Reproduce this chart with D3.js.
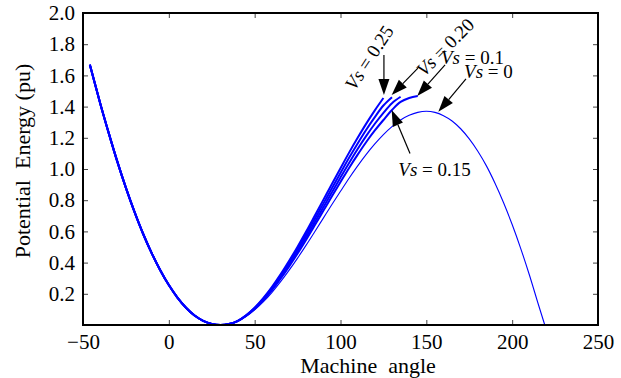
<!DOCTYPE html>
<html><head><meta charset="utf-8">
<script src="https://cdn.jsdelivr.net/npm/d3@7/dist/d3.min.js"></script>
<style>body{margin:0;background:#fff}svg{display:block}svg text,svg tspan{font-family:"Liberation Serif","Times New Roman",serif !important}</style>
</head><body><svg id="c" width="621" height="378" font-family="Liberation Serif"></svg>
<script>
// Vs = 0 (thin) curve
const angles0 = [-46,-40,-35,-30,-25,-20,-15,-10,-5,0,5,10,15,20,25,30,35,40,45,50,55,60,65,70,75,80,85,90,95,100,105,110,115,120,125,130,135,140,145,150,155,160,165,170,175,180,185,190,195,200,205,210,215,219];
const values0 = [1.669,1.422,1.230,1.047,0.879,0.725,0.585,0.461,0.351,0.256,0.176,0.111,0.061,0.027,0.007,0,0.006,0.025,0.056,0.097,0.148,0.208,0.276,0.350,0.429,0.512,0.598,0.685,0.772,0.857,0.941,1.020,1.094,1.161,1.221,1.272,1.314,1.344,1.363,1.370,1.363,1.342,1.308,1.258,1.193,1.114,1.020,0.909,0.784,0.644,0.490,0.322,0.141,0];
// compensated curves (share the Vs=0 branch up to 40 deg)
const thickAngles = [45,50,55,60,65,70,75,80,85,90,95,100,105,110,115,120,125,130,135,140,145];
const vs25 = [0.062,0.111,0.172,0.243,0.323,0.410,0.502,0.599,0.700,0.802,0.904,1.005,1.105,1.200,1.291,1.376,1.455];
const vs20 = [0.061,0.109,0.167,0.236,0.314,0.398,0.488,0.582,0.679,0.778,0.877,0.975,1.072,1.164,1.252,1.333,1.407,1.460];
const vs15 = [0.060,0.106,0.163,0.229,0.304,0.386,0.473,0.564,0.659,0.755,0.851,0.946,1.039,1.128,1.212,1.290,1.360,1.422,1.463];
const vs10 = [0.058,0.103,0.158,0.222,0.295,0.374,0.458,0.547,0.639,0.732,0.825,0.916,1.007,1.092,1.173,1.247,1.314,1.378,1.430,1.455,1.468];
const xTicks = [-50,0,50,100,150,200,250];
const yTicks = [0.2,0.4,0.6,0.8,1.0,1.2,1.4,1.6,1.8,2.0];
const labels = ["0.25","0.20","0.15","0.1","0"];

const FF = "Liberation Serif";
const svg = d3.select("#c");
const L=83,R=598,T=13,B=325;
const x = d3.scaleLinear().domain([-50,250]).range([L,R]);
const y = d3.scaleLinear().domain([0,2]).range([B,T]);

const line = d3.line().x(d=>x(d[0])).y(d=>y(d[1])).curve(d3.curveCatmullRom.alpha(0.5));
const base = angles0.map((a,i)=>[a,values0[i]]).filter(d=>d[0]<=40);
function series(vals){return base.concat(vals.map((v,i)=>[thickAngles[i],v]));}

function styleAxis(s){
  s.attr("font-family",FF);
  s.select(".domain").remove();
  s.selectAll("text").attr("font-size",21).attr("fill","#000").attr("font-family",FF);
  s.selectAll("line").attr("stroke","#444");
}
const g = svg.append("g");
g.append("g").attr("transform",`translate(0,${B})`)
 .call(d3.axisBottom(x).tickValues(xTicks).tickSize(-5).tickFormat(d=>d<0?"\u2212"+Math.abs(d):d).tickPadding(9))
 .call(styleAxis);
g.append("g").attr("transform",`translate(0,${T})`)
 .call(d3.axisTop(x).tickValues(xTicks).tickSize(-5).tickFormat(""))
 .call(styleAxis);
g.append("g").attr("transform",`translate(${L},0)`)
 .call(d3.axisLeft(y).tickValues(yTicks).tickSize(-5).tickFormat(d3.format(".1f")).tickPadding(8))
 .call(styleAxis);
g.append("g").attr("transform",`translate(${R},0)`)
 .call(d3.axisRight(y).tickValues(yTicks).tickSize(-5).tickFormat(""))
 .call(styleAxis);

// curves
svg.append("path").attr("d",line(angles0.map((a,i)=>[a,values0[i]]))).attr("fill","none").attr("stroke","#0000ff").attr("stroke-width",1.1);
[vs10,vs15,vs20,vs25].forEach(v=>{
  svg.append("path").attr("d",line(series(v))).attr("fill","none").attr("stroke","#0000ff").attr("stroke-width",2);
});

svg.append("rect").attr("x",L).attr("y",T).attr("width",R-L).attr("height",B-T).attr("fill","none").attr("stroke","#000").attr("stroke-width",2);

// axis titles
svg.append("text").attr("x",368).attr("y",373).attr("text-anchor","middle").attr("font-size",22).attr("font-family",FF).attr("xml:space","preserve").text("Machine  angle");
svg.append("text").attr("transform","translate(30,161) rotate(-90)").attr("text-anchor","middle").attr("font-size",22).attr("font-family",FF).attr("xml:space","preserve").text("Potential  Energy (pu)");

// annotations (data coordinates)
const arrows = [
  {from:[125.3,1.731], to:[125.3,1.474]},
  {from:[145.1,1.647], to:[129.8,1.474]},
  {from:[160.9,1.667], to:[144.7,1.468]},
  {from:[173.1,1.577], to:[157.0,1.367]},
  {from:[140.5,1.100], to:[129.8,1.378]}
];
arrows.forEach(a=>{
  const x1=x(a.from[0]),y1=y(a.from[1]),x2=x(a.to[0]),y2=y(a.to[1]);
  const dx=x2-x1,dy=y2-y1,len=Math.hypot(dx,dy),ux=dx/len,uy=dy/len;
  const hl=16,hw=5.5;
  const bx=x2-ux*hl,by=y2-uy*hl;
  svg.append("line").attr("x1",x1).attr("y1",y1).attr("x2",bx).attr("y2",by).attr("stroke","#000").attr("stroke-width",1.2);
  svg.append("path").attr("d",`M${x2},${y2}L${bx-uy*hw},${by+ux*hw}L${bx+uy*hw},${by-ux*hw}Z`).attr("fill","#000");
});
const notes = [
  {lab:labels[0], at:[116.6,1.715], rot:-57, anchor:"middle"},
  {lab:labels[1], at:[160.9,1.782], rot:-45, anchor:"middle"},
  {lab:labels[3], at:[158.5,1.676], rot:0, anchor:"start"},
  {lab:labels[4], at:[172.0,1.585], rot:0, anchor:"start"},
  {lab:labels[2], at:[133.7,0.955], rot:0, anchor:"start"}
];
notes.forEach(n=>{
  const t=svg.append("text").attr("transform",`translate(${x(n.at[0])},${y(n.at[1])}) rotate(${n.rot})`)
   .attr("text-anchor",n.anchor).attr("font-size",19).attr("font-family",FF).attr("dy",n.rot? "0.35em":0);
  t.append("tspan").attr("font-style","italic").attr("font-family",FF).text("Vs");
  t.append("tspan").attr("font-family",FF).text(" = "+n.lab);
});
</script></body></html>
